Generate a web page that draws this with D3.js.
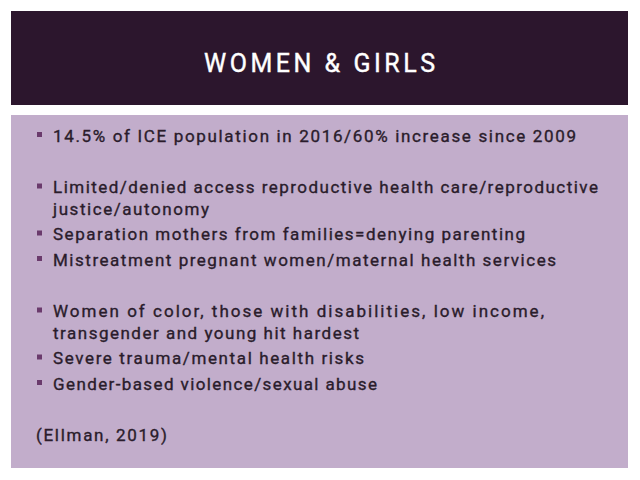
<!DOCTYPE html>
<html><head><meta charset="utf-8">
<script src="https://cdn.jsdelivr.net/npm/d3@7"></script>
<style>html,body{margin:0;padding:0;background:#fff;}svg{display:block;}</style>
</head><body>
<script>
// Slide content
const title = "WOMEN & GIRLS";
const lineTexts = [
  "14.5% of ICE population in 2016/60% increase since 2009",
  "Limited/denied access reproductive health care/reproductive",
  "justice/autonomy",
  "Separation mothers from families=denying parenting",
  "Mistreatment pregnant women/maternal health services",
  "Women of color, those with disabilities, low income,",
  "transgender and young hit hardest",
  "Severe trauma/mental health risks",
  "Gender-based violence/sexual abuse",
  "(Ellman, 2019)"
];
// kind: b = bullet, c = continuation line, p = plain (no bullet)
const lineKinds = ["b","b","c","b","b","b","c","b","b","p"];
// paragraph gap before line
const lineGaps = [0,1,0,0,0,1,0,0,0,1];
// measured text widths (px) in the reference
const lineWidths = [523, 545, 156, 472, 503, 491, 306, 311, 324, 131];

const W = 640, H = 480;
const svg = d3.select("body").append("svg").attr("width", W).attr("height", H);

const x = d3.scaleLinear().domain([0, 1]).range([11, 628]);
let acc = 0;
const units = lineKinds.map((k, i) => {
  if (i > 0) acc += (k === "c" ? 21.5 : 25.5) + lineGaps[i] * 26;
  return acc;
});
const y = d3.scaleLinear().domain([0, 1]).range([141.5, 142.5]);

svg.append("rect").attr("x", 0).attr("y", 0).attr("width", W).attr("height", H).attr("fill", "#ffffff");
svg.append("rect").attr("x", x(0)).attr("y", 11).attr("width", x(1) - x(0)).attr("height", 94).attr("fill", "#2c162d");
svg.append("rect").attr("x", x(0)).attr("y", 115).attr("width", x(1) - x(0)).attr("height", 353).attr("fill", "#c2adcb");

const fontFam = "'Roboto','Liberation Sans',sans-serif";

svg.append("text")
  .attr("x", 204).attr("y", 72)
  .attr("textLength", 231).attr("lengthAdjust", "spacing")
  .attr("fill", "#ffffff").attr("stroke", "#ffffff").attr("stroke-width", 0.4)
  .style("font-family", fontFam).style("font-size", "25px").style("font-weight", 400)
  .text(title);

const data = lineTexts.map((t, i) => ({t, k: lineKinds[i], w: lineWidths[i], u: units[i]}));

const g = svg.append("g");
g.selectAll("rect.bullet").data(data.filter(d => d.k === "b")).join("rect")
  .attr("class", "bullet")
  .attr("x", 37).attr("y", d => y(d.u) - 9.5)
  .attr("width", 5).attr("height", 5)
  .attr("fill", "#6a3a6c");

g.selectAll("text.line").data(data).join("text")
  .attr("class", "line")
  .attr("x", d => d.k === "p" ? 36 : 53)
  .attr("y", d => y(d.u))
  .attr("textLength", d => d.w).attr("lengthAdjust", "spacing")
  .attr("fill", "#2a1c2b").attr("stroke", "#2a1c2b").attr("stroke-width", 0.35)
  .style("font-family", fontFam).style("font-size", "17px").style("font-weight", 400)
  .text(d => d.t);
</script>
</body></html>
